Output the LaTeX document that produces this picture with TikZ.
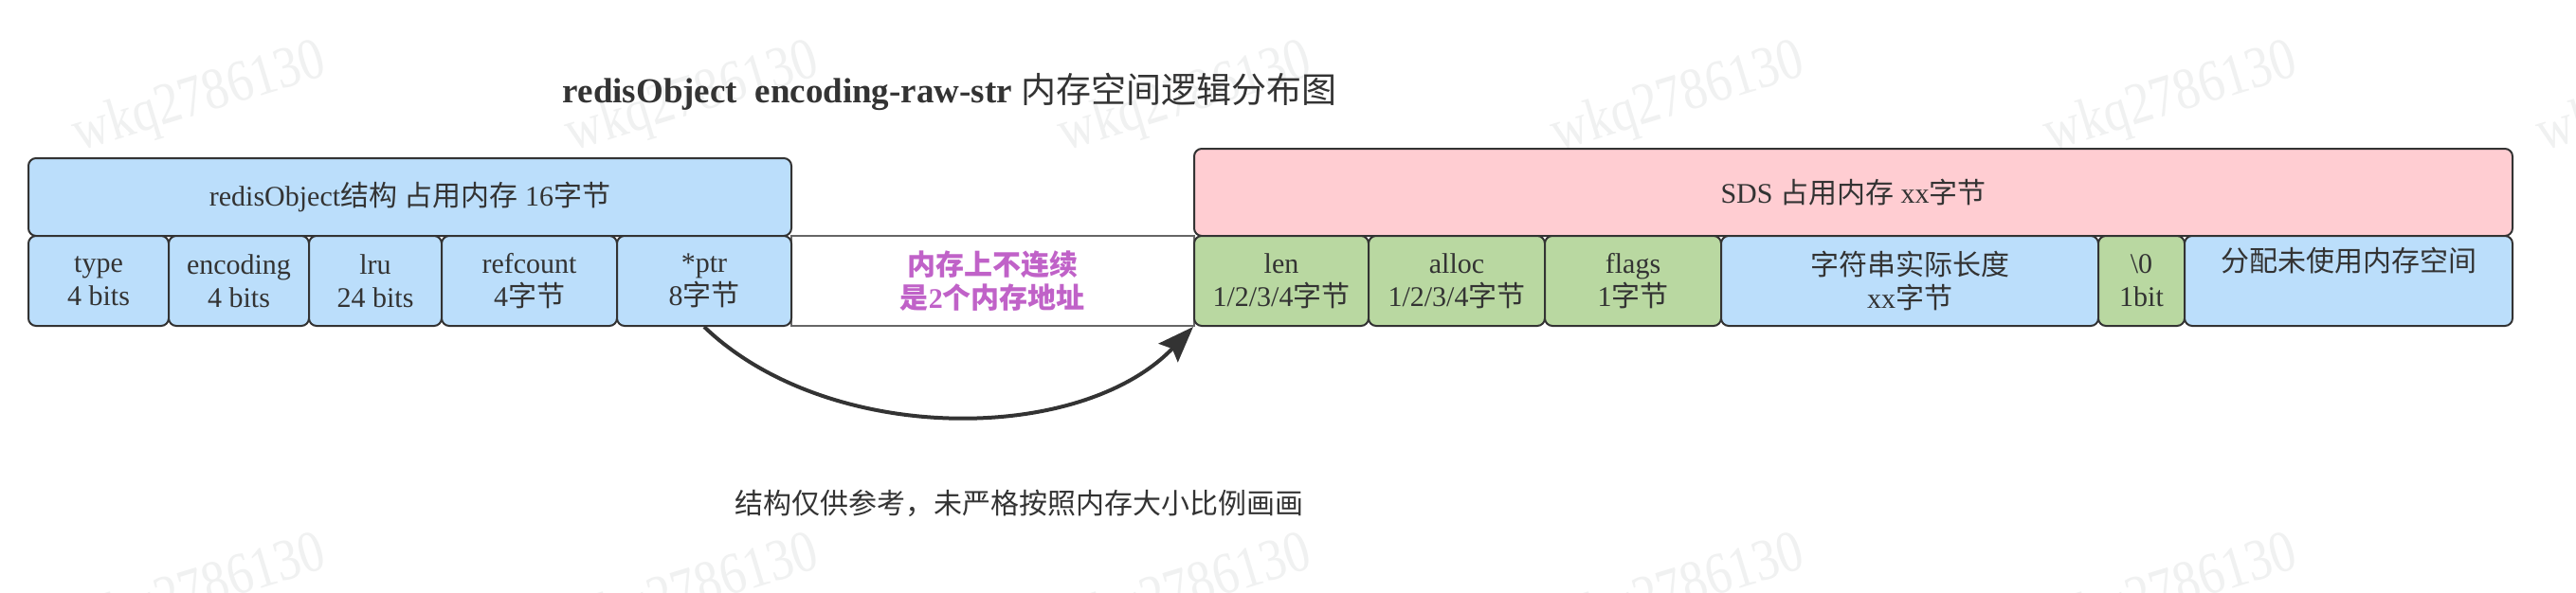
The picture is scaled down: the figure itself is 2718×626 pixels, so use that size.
\documentclass[tikz,border=0pt]{standalone}
\usepackage{fontspec}
\setmainfont{Liberation Serif}
\newfontfamily\cjk{Noto Sans CJK SC}
\usetikzlibrary{arrows.meta}
\newcommand{\zh}[1]{{\cjk #1}}
\newcommand{\bodysize}{\fontsize{30}{35}\selectfont}
\definecolor{edge}{HTML}{333333}
\definecolor{ink}{HTML}{333333}
\definecolor{cellblue}{HTML}{BBDEFB}
\definecolor{cellgreen}{HTML}{B9D8A1}
\definecolor{cellpink}{HTML}{FFCDD2}
\definecolor{notecol}{HTML}{C062C8}
\definecolor{wmcol}{HTML}{F0F1F1}

\begin{document}
\begin{tikzpicture}[x=1pt, y=-1pt,
  cell/.style={draw=edge, line width=2pt, rounded corners=8pt, anchor=north west,
    inner sep=0pt, minimum height=95pt, align=center, text=ink, font=\bodysize},
  bluecell/.style={cell, fill=cellblue},
  greencell/.style={cell, fill=cellgreen},
  wmark/.style={text=wmcol, rotate=17, xscale=0.85, font=\fontsize{62}{62}\selectfont}]
%\draw[step=100,gray!30,very thin] (0,0) grid (2718,626); %helper grid
\useasboundingbox (0,0) rectangle (2718,626);
\fill[white] (0,0) rectangle (2718,626);

% watermarks
\node[wmark] (wm1) at (211,105) {wkq2786130};
\node[wmark] (wm2) at (731,105) {wkq2786130};
\node[wmark] (wm3) at (1251,105) {wkq2786130};
\node[wmark] (wm4) at (1771,105) {wkq2786130};
\node[wmark] (wm5) at (2291,105) {wkq2786130};
\node[wmark] (wm6) at (2811,105) {wkq2786130};
\node[wmark] (wm7) at (211,625) {wkq2786130};
\node[wmark] (wm8) at (731,625) {wkq2786130};
\node[wmark] (wm9) at (1251,625) {wkq2786130};
\node[wmark] (wm10) at (1771,625) {wkq2786130};
\node[wmark] (wm11) at (2291,625) {wkq2786130};

\node[text=ink, font=\fontsize{37}{40}\selectfont] (title) at (1002,97)
  {\textbf{redisObject\ \ encoding-raw-str} \zh{内存空间逻辑分布图}};

% redisObject
\node[bluecell, minimum width=805pt, minimum height=82pt] (robj) at (29,166)
  {redisObject\zh{结构} \zh{占用内存} 16\zh{字节}};

\node[cell, draw=edge!75, line width=1.5pt, rounded corners=0pt, minimum width=425pt,
  text=notecol, font=\bodysize\bfseries] (gap) at (834,248)
  {\zh{内存上不连续}\\\zh{是}2\zh{个内存地址}};

\node[bluecell, minimum width=148pt] (type) at (29,248) {type\\4 bits};
\node[bluecell, minimum width=148pt] (enc) at (177,248) {encoding\\4 bits};
\node[bluecell, minimum width=140pt] (lru) at (325,248) {lru\\24 bits};
\node[bluecell, minimum width=185pt] (refc) at (465,248) {refcount\\4\zh{字节}};
\node[bluecell, minimum width=184pt] (ptr) at (650,248) {*ptr\\8\zh{字节}};

% SDS
\node[cell, fill=cellpink, minimum width=1391pt, minimum height=92pt] (sds) at (1259,156)
  {SDS \zh{占用内存} xx\zh{字节}};

\node[greencell, minimum width=184pt] (len) at (1259,248) {len\\1/2/3/4\zh{字节}};
\node[greencell, minimum width=186pt] (alloc) at (1443,248) {alloc\\1/2/3/4\zh{字节}};
\node[greencell, minimum width=186pt] (flags) at (1629,248) {flags\\1\zh{字节}};
\node[bluecell, minimum width=398pt] (buf) at (1815,248) {\zh{字符串实际长度}\\xx\zh{字节}};
\node[greencell, minimum width=91pt] (nul) at (2213,248) {\textbackslash0\\1bit};
\node[bluecell, minimum width=346pt] (free) at (2304,248) {\zh{分配未使用内存空间}\\\strut};

\draw[draw=edge, line width=4pt, -{Stealth[length=38pt, width=28pt, inset=6pt]}]
  (ptr.south) .. controls +(130,125) and +(-120,125) .. (len.south west);

\node[text=ink, font=\fontsize{30}{35}\selectfont] (note) at (1075,531)
  {\zh{结构仅供参考，未严格按照内存大小比例画画}};
\end{tikzpicture}
\end{document}
